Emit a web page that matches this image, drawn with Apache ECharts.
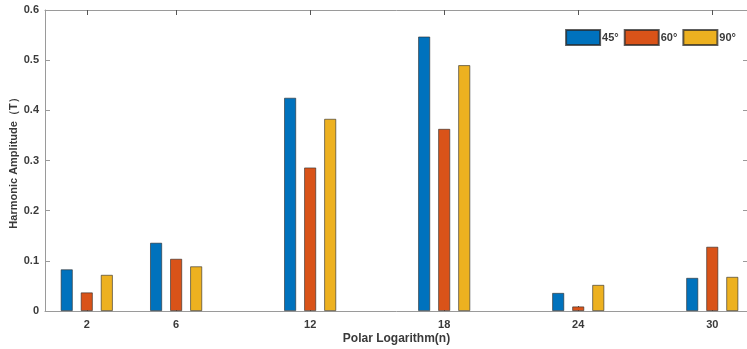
<!DOCTYPE html>
<html><head><meta charset="utf-8">
<script src="https://cdn.jsdelivr.net/npm/echarts@6/dist/echarts.min.js"></script>
<style>html,body{margin:0;padding:0;background:#fff}#c{width:747px;height:349px}</style>
</head><body><div id="c"></div>
<script>
const categories = [2, 6, 12, 18, 24, 30];
const seriesNames = ['45°', '60°', '90°'];
const s45 = [0.083, 0.136, 0.425, 0.547, 0.036, 0.066];
const s60 = [0.037, 0.104, 0.286, 0.363, 0.009, 0.128];
const s90 = [0.072, 0.089, 0.383, 0.490, 0.052, 0.068];
const yTicks = [0, 0.1, 0.2, 0.3, 0.4, 0.5, 0.6];
const colors = ['#0072BD', '#D95319', '#EDB120'];
const font = 'Liberation Sans, Arial, sans-serif';
const axisCol = '#9a9a9a';
const txtCol = '#3a3a3a';

function mk(name, vals, i) {
  return {
    name, type: 'bar', xAxisIndex: 0, yAxisIndex: 0,
    data: categories.map((c, k) => [c, vals[k]]),
    barWidth: 12, barGap: '67%',
    itemStyle: { color: colors[i], borderColor: 'rgba(40,40,40,0.75)', borderWidth: 0.8 },
    emphasis: { disabled: true }
  };
}
const chart = echarts.init(document.getElementById('c'), null, { renderer: 'canvas' });
const xCommon = {
  type: 'value', min: 0.13, max: 31.6,
  splitLine: { show: false },
  axisLine: { show: true, onZero: false, lineStyle: { color: axisCol, width: 1 } },
  axisTick: { show: true, inside: true, length: 5, customValues: categories, lineStyle: { color: '#555' } }
};
const yCommon = {
  type: 'value', min: 0, max: 0.6, interval: 0.1,
  splitLine: { show: false },
  axisLine: { show: true, lineStyle: { color: axisCol, width: 1 } },
  axisTick: { show: true, inside: true, length: 5, lineStyle: { color: axisCol } }
};
chart.setOption({
  animation: false,
  textStyle: { fontFamily: font },
  grid: { left: 45, top: 10, width: 703, bottom: 38, containLabel: false, outerBoundsMode: 'none' },
  legend: {
    data: seriesNames, right: 6, top: 24, itemWidth: 34, itemHeight: 15, itemGap: 5,
    icon: 'rect',
    textStyle: { fontFamily: font, fontWeight: 'bold', fontSize: 11, color: txtCol, padding: [0, 0, 0, -3] }
  },
  xAxis: [
    Object.assign({}, xCommon, {
      position: 'bottom',
      name: 'Polar Logarithm(n)', nameLocation: 'middle', nameGap: 22, nameMoveOverlap: false,
      nameTextStyle: { fontFamily: font, fontWeight: 'bold', fontSize: 12, color: txtCol },
      axisLabel: { show: true, customValues: categories, margin: 8, fontFamily: font, fontWeight: 'bold', fontSize: 11, color: txtCol }
    }),
    Object.assign({}, xCommon, { position: 'top', axisLabel: { show: false } })
  ],
  yAxis: [
    Object.assign({}, yCommon, {
      position: 'left',
      name: 'Harmonic Amplitude（T）', nameLocation: 'middle', nameGap: 26, nameRotate: 90, nameMoveOverlap: false,
      nameTextStyle: { fontFamily: font, fontWeight: 'bold', fontSize: 11, color: txtCol },
      axisLabel: { margin: 6, fontFamily: font, fontWeight: 'bold', fontSize: 11, color: txtCol,
        formatter: v => v === 0 ? '0' : v.toFixed(1) }
    }),
    Object.assign({}, yCommon, { position: 'right', axisLabel: { show: false } })
  ],
  series: [mk(seriesNames[0], s45, 0), mk(seriesNames[1], s60, 1), mk(seriesNames[2], s90, 2)]
});
</script></body></html>
